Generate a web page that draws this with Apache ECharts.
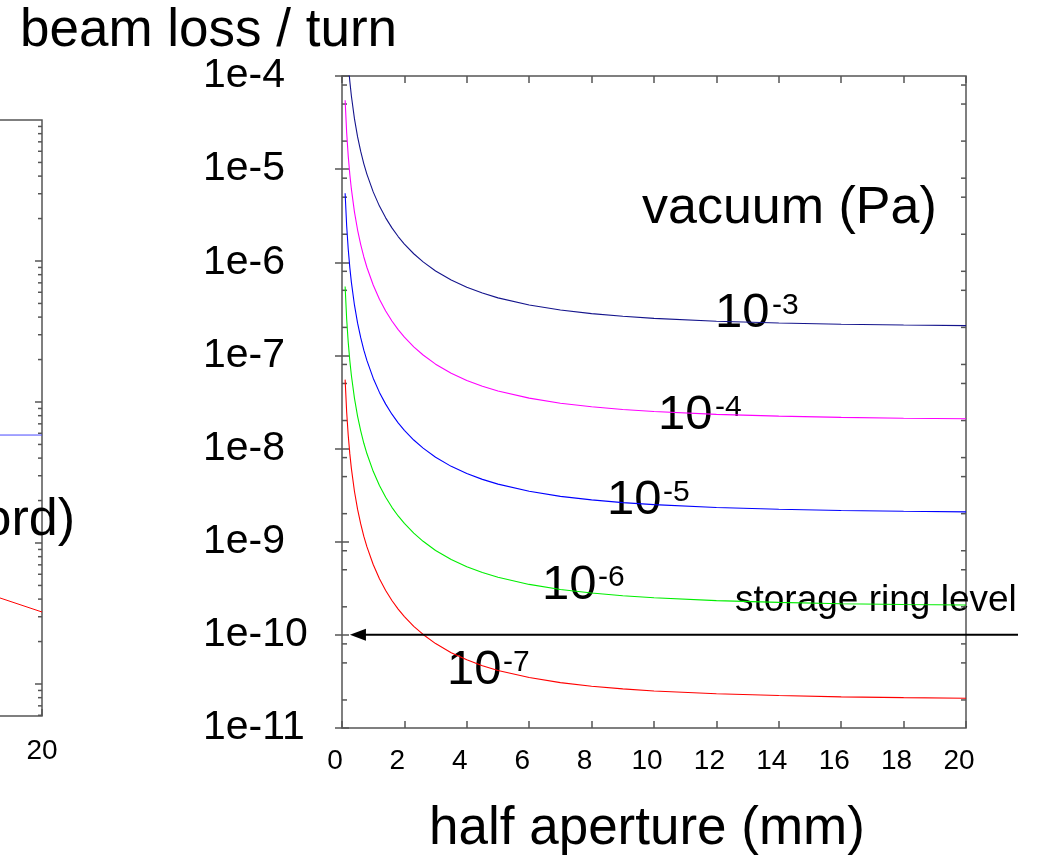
<!DOCTYPE html>
<html>
<head>
<meta charset="UTF-8">
<title>beam loss / turn</title>
<script src="https://cdn.jsdelivr.net/npm/echarts@6/dist/echarts.min.js"></script>
<style>
  html, body { margin: 0; padding: 0; background: #fff; }
  #chart { width: 1037px; height: 862px; }
</style>
</head>
<body>
<div id="chart"></div>
<script>
// half aperture (mm)
var aperture = [0.1, 0.15, 0.2, 0.25, 0.3, 0.4, 0.5, 0.6, 0.7, 0.8, 1, 1.2, 1.4, 1.6, 1.8, 2, 2.3, 2.6, 3, 3.5, 4, 4.5, 5, 6, 7, 8, 9, 10, 12, 14, 16, 18, 20];

// beam loss / turn for each vacuum pressure
var loss1e3 = [5.5e-4, 2.45e-4, 1.38e-4, 8.82e-5, 6.13e-5, 3.46e-5, 2.22e-5, 1.55e-5, 1.14e-5, 8.79e-6, 5.7e-6, 4.01e-6, 3.0e-6, 2.34e-6, 1.89e-6, 1.57e-6, 1.235e-6, 1.01e-6, 8.06e-7, 6.44e-7, 5.39e-7, 4.67e-7, 4.15e-7, 3.48e-7, 3.07e-7, 2.81e-7, 2.63e-7, 2.5e-7, 2.33e-7, 2.23e-7, 2.16e-7, 2.12e-7, 2.09e-7];
var loss1e4 = [5.5e-5, 2.45e-5, 1.38e-5, 8.82e-6, 6.13e-6, 3.46e-6, 2.22e-6, 1.55e-6, 1.14e-6, 8.79e-7, 5.7e-7, 4.01e-7, 3.0e-7, 2.34e-7, 1.89e-7, 1.57e-7, 1.235e-7, 1.01e-7, 8.06e-8, 6.44e-8, 5.39e-8, 4.67e-8, 4.15e-8, 3.48e-8, 3.07e-8, 2.81e-8, 2.63e-8, 2.5e-8, 2.33e-8, 2.23e-8, 2.16e-8, 2.12e-8, 2.09e-8];
var loss1e5 = [5.5e-6, 2.45e-6, 1.38e-6, 8.82e-7, 6.13e-7, 3.46e-7, 2.22e-7, 1.55e-7, 1.14e-7, 8.79e-8, 5.7e-8, 4.01e-8, 3.0e-8, 2.34e-8, 1.89e-8, 1.57e-8, 1.235e-8, 1.01e-8, 8.06e-9, 6.44e-9, 5.39e-9, 4.67e-9, 4.15e-9, 3.48e-9, 3.07e-9, 2.81e-9, 2.63e-9, 2.5e-9, 2.33e-9, 2.23e-9, 2.16e-9, 2.12e-9, 2.09e-9];
var loss1e6 = [5.5e-7, 2.45e-7, 1.38e-7, 8.82e-8, 6.13e-8, 3.46e-8, 2.22e-8, 1.55e-8, 1.14e-8, 8.79e-9, 5.7e-9, 4.01e-9, 3.0e-9, 2.34e-9, 1.89e-9, 1.57e-9, 1.235e-9, 1.01e-9, 8.06e-10, 6.44e-10, 5.39e-10, 4.67e-10, 4.15e-10, 3.48e-10, 3.07e-10, 2.81e-10, 2.63e-10, 2.5e-10, 2.33e-10, 2.23e-10, 2.16e-10, 2.12e-10, 2.09e-10];
var loss1e7 = [5.5e-8, 2.45e-8, 1.38e-8, 8.82e-9, 6.13e-9, 3.46e-9, 2.22e-9, 1.55e-9, 1.14e-9, 8.79e-10, 5.7e-10, 4.01e-10, 3.0e-10, 2.34e-10, 1.89e-10, 1.57e-10, 1.235e-10, 1.01e-10, 8.06e-11, 6.44e-11, 5.39e-11, 4.67e-11, 4.15e-11, 3.48e-11, 3.07e-11, 2.81e-11, 2.63e-11, 2.5e-11, 2.33e-11, 2.23e-11, 2.16e-11, 2.12e-11, 2.09e-11];

var vacuumExp = ['-3', '-4', '-5', '-6', '-7'];

// storage ring level arrow (runs out past the frame)
var ringLevel = 1e-10;
var ringArrowX = [21.67, 0.51];

// cropped neighbour plot at the left edge of the picture
var leftX = [16, 18, 20];
var leftRed = [6.5e-8, 4.6e-8, 3.24e-8];
var leftBlueX = [0, 20];
var leftBlue = [5.83e-7, 5.83e-7];
var leftMin = 5.93e-9, leftMax = 1e-4;

// y tick values
var decades = [-11, -10, -9, -8, -7, -6, -5];
var mainMinorMult = [2, 5, 8];
var leftDecades = [-9, -8, -7, -6, -5];
var leftMinorMult = [2, 3, 4, 5, 6, 7, 8, 9];

function pairs(xs, ys) {
  return xs.map(function (x, i) { return [x, ys[i]]; });
}

var mainMinor = [];
decades.forEach(function (e) {
  mainMinorMult.forEach(function (m) { mainMinor.push([0, m * Math.pow(10, e)]); });
});
var leftTicks = [];
leftDecades.forEach(function (e) {
  leftTicks.push([20, Math.pow(10, e), 7]);
  leftMinorMult.forEach(function (m) { leftTicks.push([20, m * Math.pow(10, e), 4]); });
});
leftTicks = leftTicks.filter(function (t) { return t[1] >= leftMin && t[1] <= leftMax; });

var axisGray = '#555';
var font = 'Arial, "Liberation Sans", sans-serif';

var chart = echarts.init(document.getElementById('chart'));

function curve(name, data, color) {
  return {
    name: name, type: 'line', xAxisIndex: 0, yAxisIndex: 0,
    data: pairs(aperture, data), smooth: false,
    showSymbol: false, clip: true, silent: true,
    lineStyle: { color: color, width: 1.1 }
  };
}

function labelTexts(list) {
  var out = [];
  list.forEach(function (l) {
    out.push({ type: 'text', style: { text: '10', x: l[0], y: l[1], font: '49px ' + font, fill: '#000', textAlign: 'left', textVerticalAlign: 'middle' } });
    out.push({ type: 'text', style: { text: l[4], x: l[2], y: l[3], font: '30px ' + font, fill: '#000', textAlign: 'left', textVerticalAlign: 'middle' } });
  });
  return out;
}

var hiddenAxis = { show: false };

chart.setOption({
  backgroundColor: '#fff',
  animation: false,
  title: {
    text: 'beam loss / turn', left: 15, top: 0,
    textStyle: { fontFamily: font, fontSize: 53, fontWeight: 'normal', color: '#000' }
  },
  grid: [
    { left: 342, top: 76, width: 624, height: 652, show: true, borderColor: axisGray, borderWidth: 1.5, outerBoundsMode: 'none' },
    { left: -600, top: 120, width: 642, height: 596, show: true, borderColor: axisGray, borderWidth: 1.5, outerBoundsMode: 'none' },
    { left: 342, top: 76, width: 676, height: 652, outerBoundsMode: 'none' }
  ],
  xAxis: [
    {
      type: 'value', gridIndex: 0, min: 0, max: 20, interval: 2, position: 'bottom',
      axisLine: { show: false }, splitLine: { show: false },
      axisTick: { inside: true, length: 7, lineStyle: { color: axisGray, width: 1.5 } },
      axisLabel: { fontFamily: font, fontSize: 28, color: '#000', margin: 19, padding: [0, 14, 0, 0] }
    },
    {
      type: 'value', gridIndex: 0, min: 0, max: 20, interval: 2, position: 'top',
      axisLine: { show: false }, splitLine: { show: false },
      axisTick: { inside: true, length: 7, lineStyle: { color: axisGray, width: 1.5 } },
      axisLabel: { show: false }
    },
    {
      type: 'value', gridIndex: 1, min: 0, max: 20, interval: 2, position: 'bottom',
      axisLine: { show: false }, splitLine: { show: false },
      axisTick: { inside: true, length: 7, lineStyle: { color: axisGray, width: 1.5 } },
      axisLabel: {
        fontFamily: font, fontSize: 28, color: '#000', margin: 21,
        formatter: function (v) { return v === 20 ? '20' : ''; }
      }
    },
    Object.assign({ type: 'value', gridIndex: 2, min: 0, max: 21.67 }, hiddenAxis)
  ],
  yAxis: [
    {
      type: 'log', gridIndex: 0, min: 1e-11, max: 1e-4, interval: 1, position: 'left',
      axisLine: { show: false }, splitLine: { show: false }, minorTick: { show: false },
      axisTick: { inside: true, length: 7, lineStyle: { color: axisGray, width: 1.5 } },
      axisLabel: {
        fontFamily: font, fontSize: 41, color: '#000', align: 'left', margin: 139, padding: [6, 0, 0, 0],
        formatter: function (v) { return '1e' + Math.round(Math.log10(v)); }
      }
    },
    {
      type: 'log', gridIndex: 0, min: 1e-11, max: 1e-4, interval: 1, position: 'right',
      axisLine: { show: false }, splitLine: { show: false },
      axisTick: { inside: true, length: 7, lineStyle: { color: axisGray, width: 1.5 } },
      axisLabel: { show: false }
    },
    {
      type: 'log', gridIndex: 1, min: leftMin, max: leftMax, position: 'right',
      axisLine: { show: false }, splitLine: { show: false },
      axisTick: { show: false }, axisLabel: { show: false }
    },
    Object.assign({ type: 'log', gridIndex: 2, min: 1e-11, max: 1e-4 }, hiddenAxis)
  ],
  series: [
    curve('1e-3 Pa', loss1e3, '#14148c'),
    curve('1e-4 Pa', loss1e4, '#ff00ff'),
    curve('1e-5 Pa', loss1e5, '#0000ff'),
    curve('1e-6 Pa', loss1e6, '#00ee00'),
    curve('1e-7 Pa', loss1e7, '#ff0000'),
    {
      name: 'storage ring level', type: 'line', xAxisIndex: 3, yAxisIndex: 3, clip: false, silent: true,
      data: [
        { value: [ringArrowX[0], ringLevel], symbol: 'none' },
        { value: [ringArrowX[1], ringLevel], symbol: 'triangle', symbolSize: [12, 16], symbolRotate: 90 }
      ],
      lineStyle: { color: '#000', width: 2 },
      itemStyle: { color: '#000' }
    },
    {
      name: 'minor ticks', type: 'custom', xAxisIndex: 0, yAxisIndex: 0, silent: true,
      data: mainMinor,
      renderItem: function (params, api) {
        var v = api.value(1);
        var l = api.coord([0, v]);
        var r = api.coord([20, v]);
        return {
          type: 'group', children: [
            { type: 'line', shape: { x1: l[0], y1: l[1], x2: l[0] + 5, y2: l[1] }, style: { stroke: axisGray, lineWidth: 1.5 } },
            { type: 'line', shape: { x1: r[0], y1: r[1], x2: r[0] - 5, y2: r[1] }, style: { stroke: axisGray, lineWidth: 1.5 } }
          ]
        };
      }
    },
    {
      name: 'left blue', type: 'line', xAxisIndex: 2, yAxisIndex: 2, showSymbol: false, clip: true, silent: true,
      data: pairs(leftBlueX, leftBlue), lineStyle: { color: '#4a4aff', width: 1 }
    },
    {
      name: 'left red', type: 'line', xAxisIndex: 2, yAxisIndex: 2, showSymbol: false, clip: true, silent: true,
      data: pairs(leftX, leftRed), lineStyle: { color: '#ff0000', width: 1 }
    },
    {
      name: 'left ticks', type: 'custom', xAxisIndex: 2, yAxisIndex: 2, silent: true,
      data: leftTicks,
      renderItem: function (params, api) {
        var p = api.coord([20, api.value(1)]);
        var len = api.value(2);
        return { type: 'line', shape: { x1: p[0], y1: p[1], x2: p[0] - len, y2: p[1] }, style: { stroke: axisGray, lineWidth: 1.5 } };
      }
    }
  ],
  graphic: [
    { type: 'text', style: { text: 'vacuum (Pa)', x: 642, y: 209, font: '52px ' + font, fill: '#000', textAlign: 'left', textVerticalAlign: 'middle' } },
    { type: 'text', style: { text: 'storage ring level', x: 735, y: 601, font: '37px ' + font, fill: '#000', textAlign: 'left', textVerticalAlign: 'middle' } },
    { type: 'text', style: { text: 'half aperture (mm)', x: 429, y: 829, font: '53px ' + font, fill: '#000', textAlign: 'left', textVerticalAlign: 'middle' } },
    { type: 'text', style: { text: 'ord)', x: 75, y: 521, font: '52px ' + font, fill: '#000', textAlign: 'right', textVerticalAlign: 'middle' } }
  ].concat(labelTexts([
    [715, 313, 772, 306, vacuumExp[0]],
    [658, 415, 715, 408, vacuumExp[1]],
    [607, 500, 663, 493, vacuumExp[2]],
    [542, 585, 598, 578, vacuumExp[3]],
    [447, 670, 503, 663, vacuumExp[4]]
  ]))
});
window.onresize = function () { chart.resize(); };
</script>
</body>
</html>
